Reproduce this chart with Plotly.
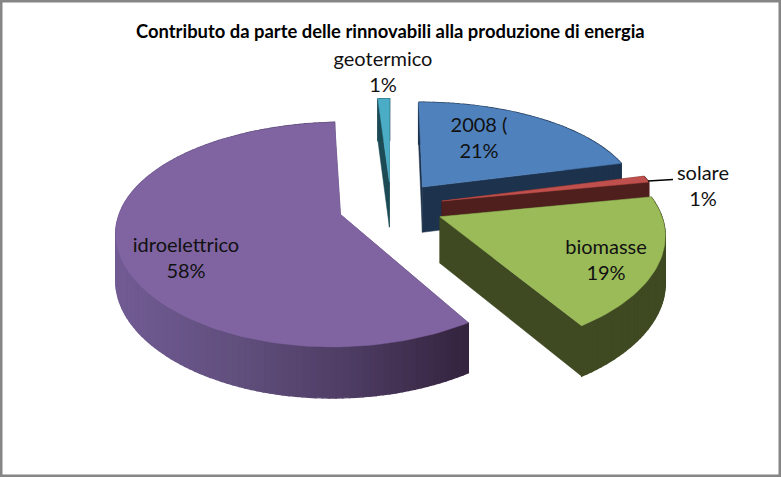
import math
import plotly.graph_objects as go

categories = ["2008 (", "solare", "biomasse", "idroelettrico", "geotermico"]
values = [21, 1, 19, 58, 1]
top_colors = ["#4F81BD", "#C0504D", "#9BBB59", "#8064A2", "#4BACC6"]
wall_colors = ["#1D324C", "#4F1F1D", "#3F4A22", "#4F3D64", "#1C4A55"]
label_xy = [(479, 140), (703, 188), (606, 262), (186, 260), (383, 74)]
title = "Contributo da parte delle rinnovabili alla produzione di energia"

CX, CY, RX, RY, K, KX, H, EXPL = 391, 206.5, 219, 106, 0.176, 0.14, 46, 0.24
W, HT = 781, 477
FONT = "Lato"


def project(x, y, drop=False):
    d = 1 + K * y
    px = CX + RX * x / (1 + KX * y)
    py = CY - RY * y / d
    if drop:
        py += H / math.sqrt(d)
    return px, py


def lerp_hex(stops, t):
    t = max(0, min(1, t)) * (len(stops) - 1)
    i = min(int(t), len(stops) - 2)
    f = t - i
    a = [int(stops[i][j:j + 2], 16) for j in (1, 3, 5)]
    b = [int(stops[i + 1][j:j + 2], 16) for j in (1, 3, 5)]
    return "rgb(%d,%d,%d)" % tuple(a[k] + (b[k] - a[k]) * f for k in range(3))


def poly(pts, color, lw=0.5):
    return go.Scatter(
        x=[p[0] for p in pts] + [pts[0][0]],
        y=[p[1] for p in pts] + [pts[0][1]],
        mode="lines", fill="toself", fillcolor=color,
        line=dict(color=color, width=lw),
        hoverinfo="skip", showlegend=False,
    )


total = sum(values)
starts = []
acc = 0
for v in values:
    starts.append(acc)
    acc += v

fig = go.Figure()
GRAD = ["#725C94", "#62507F", "#4F3D64", "#35243F"]
for i in [4, 0, 3, 1, 2]:
    a0 = 2 * math.pi * starts[i] / total
    a1 = 2 * math.pi * (starts[i] + values[i]) / total
    mid = (a0 + a1) / 2
    ox, oy = EXPL * math.sin(mid), EXPL * math.cos(mid)
    n = max(6, int(values[i] * 2.4))
    angs = [a0 + (a1 - a0) * j / n for j in range(n + 1)]
    rim = [(ox + math.sin(a), oy + math.cos(a)) for a in angs]
    apex = (ox, oy)
    # radial cut faces
    for q in (rim[0], rim[-1]):
        fig.add_trace(poly([project(*apex), project(*q), project(*q, True), project(*apex, True)], wall_colors[i]))
    # outer wall
    for j in range(n):
        p, q = rim[j], rim[j + 1]
        quad = [project(*p), project(*q), project(*q, True), project(*p, True)]
        col = wall_colors[i]
        if i == 3:
            col = lerp_hex(GRAD, ((quad[0][0] + quad[1][0]) / 2 - 115) / 350)
        fig.add_trace(poly(quad, col, 1.4))
    # top face
    fig.add_trace(poly([project(*apex)] + [project(*r) for r in rim], top_colors[i]))

# leader line for the small slice
fig.add_shape(type="line", x0=648, y0=181, x1=673, y1=179.5, line=dict(color="black", width=1.3))

fig.add_trace(go.Scatter(
    x=[p[0] for p in label_xy], y=[p[1] for p in label_xy], mode="text",
    text=[f"{c}<br>{v}%" for c, v in zip(categories, values)],
    textposition="middle center",
    textfont=dict(family=FONT, size=20, color="#111111"),
    hoverinfo="skip", showlegend=False,
))
fig.add_annotation(x=390, y=31, text=f"<b>{title}</b>", showarrow=False,
                   font=dict(family=FONT, size=18.4, color="black"))
fig.add_shape(type="rect", x0=1, y0=1, x1=W - 1, y1=HT - 1,
              line=dict(color="#868686", width=3))
fig.update_layout(
    width=W, height=HT, margin=dict(l=0, r=0, t=0, b=0),
    paper_bgcolor="white", plot_bgcolor="white", showlegend=False,
    xaxis=dict(range=[0, W], visible=False, fixedrange=True),
    yaxis=dict(range=[HT, 0], visible=False, fixedrange=True),
)
fig.write_html("out.html", config=dict(displayModeBar=False),
               post_script="document.body.style.margin='0';document.documentElement.style.overflow='hidden';")
